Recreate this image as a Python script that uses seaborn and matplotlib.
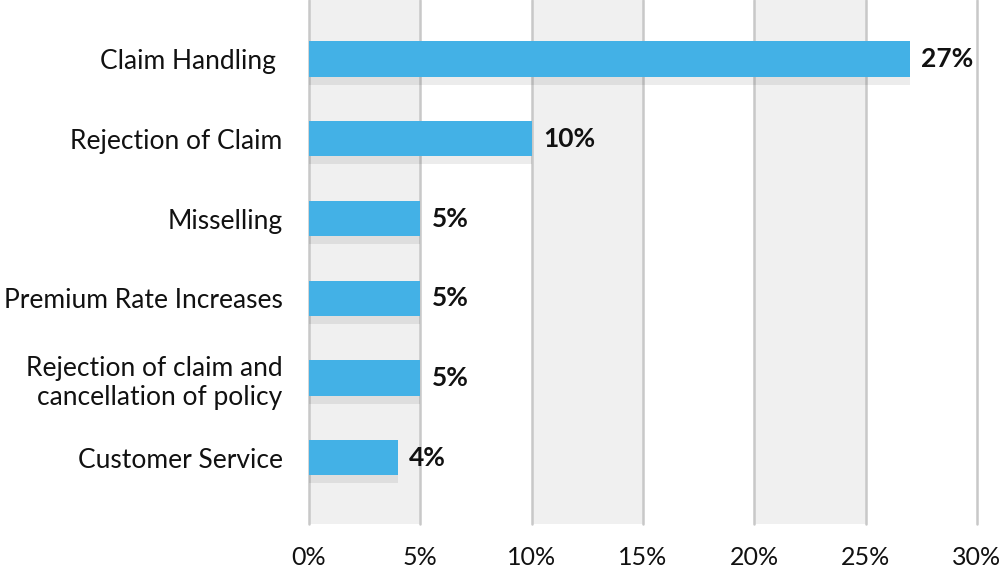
import matplotlib
matplotlib.use("Agg")
import matplotlib.pyplot as plt
import matplotlib.transforms as mtransforms
import seaborn as sns
import pandas as pd

categories = ["Claim Handling ", "Rejection of Claim", "Misselling", "Premium Rate Increases",
              "Rejection of claim and\ncancellation of policy", "Customer Service"]
values = [27, 10, 5, 5, 5, 4]
value_labels = ["27%", "10%", "5%", "5%", "5%", "4%"]
xticks = [0, 5, 10, 15, 20, 25, 30]
xtick_labels = ["0%", "5%", "10%", "15%", "20%", "25%", "30%"]

sns.set_theme(style="white")
plt.rcParams['font.family'] = ['Lato', 'DejaVu Sans']

df = pd.DataFrame({"category": categories, "value": values})

fig = plt.figure(figsize=(10.03, 5.68), dpi=100)
ax = fig.add_axes([309/1003, 44/568, (977-309)/1003, 524/568])

bar_h = 0.44
# alternating background bands
for i in range(0, len(xticks) - 1, 2):
    ax.axvspan(xticks[i], xticks[i + 1], color="#f0f0f0", zorder=0, lw=0)
for x in xticks:
    ax.axvline(x, color="#c8c8c8", lw=1.8, zorder=1, clip_on=False)

# shadows
ax.barh([i + 0.1 for i in range(len(values))], values, height=bar_h,
        color="black", alpha=0.075, zorder=2, lw=0)

sns.barplot(data=df, x="value", y="category", orient="h", color="#43B1E6",
            saturation=1, width=bar_h, ax=ax, zorder=3, linewidth=0)

for i, (v, lab) in enumerate(zip(values, value_labels)):
    ax.annotate(lab, (v, i), xytext=(8, 0), textcoords="offset points",
                ha="left", va="center", fontsize=19, fontweight="bold", color="#111111")

ax.set_xlim(0, 30)
ax.set_ylim(len(values) - 1 + 0.83, -0.74)
ax.set_xticks(xticks)
ax.set_xticklabels(xtick_labels, fontsize=18, color="#111111")
offset = mtransforms.ScaledTranslation(6/100, 0, fig.dpi_scale_trans)
for t in ax.get_xticklabels():
    t.set_transform(t.get_transform() + offset)
ax.tick_params(axis="x", length=0, pad=15.5)
ax.tick_params(axis="y", length=0, pad=19, labelsize=19, labelcolor="#111111")
ax.set_xlabel("")
ax.set_ylabel("")
for s in ax.spines.values():
    s.set_visible(False)
for t in ax.get_yticklabels():
    t.set_ha("right")
    t.set_multialignment("right")

fig.savefig("out.png", dpi=100)
